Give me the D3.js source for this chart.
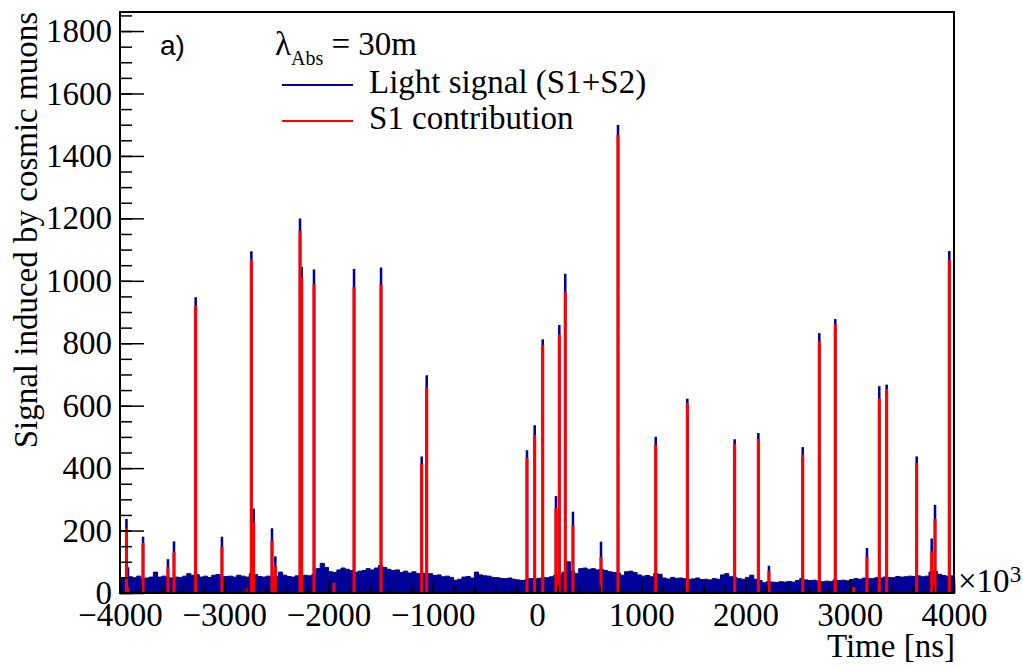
<!DOCTYPE html>
<html>
<head>
<meta charset="utf-8">
<script src="https://cdn.jsdelivr.net/npm/d3@7"></script>
<style>
  body { margin: 0; background: #fff; }
  svg { display: block; }
  .serif { font-family: 'Liberation Serif', Tinos, 'Nimbus Roman', 'DejaVu Serif', serif; }
</style>
</head>
<body>
<div id="wrapper"></div>
<script>
/* DATA (time in ns x10^3) */
const bgStart = -4000;
const bgBinWidth = 40;
// slowly varying light background, one value per 40-unit bin
const background = [
  49, 48, 52, 49, 54, 46, 48, 51, 67, 51, 54, 49, 48, 51, 50, 54, 62, 57, 59, 51,
  54, 50, 57, 59, 51, 53, 54, 51, 57, 54, 51, 62, 59, 53, 51, 54, 51, 53, 67, 57,
  53, 51, 55, 50, 57, 55, 60, 78, 95, 82, 68, 66, 74, 80, 76, 72, 66, 70, 72, 78,
  74, 80, 88, 82, 76, 72, 74, 66, 70, 64, 68, 62, 64, 58, 62, 56, 58, 52, 54, 50,
  41, 44, 51, 53, 48, 67, 58, 55, 54, 50, 49, 47, 46, 48, 44, 42, 40, 42, 46, 45,
  47, 50, 49, 52, 57, 60, 67, 100, 70, 62, 78, 80, 76, 78, 74, 76, 72, 68, 66, 64,
  57, 68, 70, 66, 58, 54, 56, 52, 62, 60, 48, 45, 50, 47, 48, 46, 44, 45, 48, 43,
  44, 42, 46, 44, 58, 62, 52, 50, 46, 44, 50, 57, 44, 40, 33, 36, 35, 34, 36, 35,
  37, 35, 40, 46, 42, 40, 41, 38, 36, 38, 37, 42, 40, 41, 39, 43, 46, 44, 48, 47,
  46, 49, 48, 51, 50, 49, 53, 51, 52, 54, 53, 55, 52, 54, 67, 70, 60, 56, 54, 55
];

// muon flashes: position, total light (S1+S2), S1 part
const spikeTimes = [
  -3938, -3923, -3779, -3540, -3482, -3274, -3022, -2791, -2740, -2718, -2542, -2510,
  -2273, -2257, -2139, -1947, -1755, -1496, -1106, -1058, -96, -22, 55, 182, 214,
  271, 345, 614, 777, 1139, 1442, 1896, 2123, 2225, 2549, 2708, 2861, 3038, 3165,
  3283, 3354, 3642, 3786, 3818, 3955
];
const spikeTotal = [
  235, 80, 178, 106, 163, 945, 178, 14, 1092, 268, 205, 115,
  1197, 1042, 1034, 30, 1036, 1040, 435, 695, 455, 535, 810, 308, 856,
  1020, 258, 162, 1497, 498, 620, 490, 510, 85, 465, 830, 875, 16, 142,
  660, 665, 435, 172, 280, 1093
];
const spikeS1 = [
  205, 15, 157, 80, 128, 918, 145, 14, 1066, 225, 165, 83,
  1157, 1007, 986, 30, 977, 985, 410, 655, 430, 504, 792, 270, 825,
  960, 212, 113, 1465, 472, 605, 475, 490, 68, 440, 805, 858, 16, 113,
  620, 650, 413, 130, 235, 1065
];

const yTitle = 'Signal induced by cosmic muons';
const xTitle = 'Time [ns]';
const legendLabels = ['Light signal (S1+S2)', 'S1 contribution'];

/* CHART DIMENSIONS */
const dimensions = {
  width: 1023,
  height: 666,
  margin: { top: 12, right: 69, bottom: 73, left: 120 },
};
dimensions.boundedWidth =
  dimensions.width - (dimensions.margin.left + dimensions.margin.right);
dimensions.boundedHeight =
  dimensions.height - (dimensions.margin.top + dimensions.margin.bottom);

const blue = '#000099';
const red = '#ff0000';

/* SCALES */
const xScale = d3.scaleLinear().domain([-4000, 4000]).range([0, dimensions.boundedWidth]);
const yScale = d3.scaleLinear().domain([0, 1861]).range([dimensions.boundedHeight, 0]);

const wrapper = d3.select('#wrapper')
  .append('svg')
  .attr('width', dimensions.width)
  .attr('height', dimensions.height);

const bounds = wrapper.append('g')
  .attr('transform', `translate(${dimensions.margin.left},${dimensions.margin.top})`);

/* BACKGROUND HISTOGRAM */
const bgData = background.map((v, i) => ({ t: bgStart + i * bgBinWidth, v }));
bgData.push({ t: bgStart + background.length * bgBinWidth, v: background[background.length - 1] });

const bgArea = d3.area()
  .x(d => xScale(d.t))
  .y0(yScale(0))
  .y1(d => yScale(d.v))
  .curve(d3.curveStepAfter);

bounds.append('path')
  .datum(bgData)
  .attr('d', bgArea)
  .attr('fill', blue)
  .attr('stroke', blue)
  .attr('stroke-width', 1);

/* SPIKES: total light */
const spikes = spikeTimes.map((t, i) => ({ t, total: spikeTotal[i], s1: spikeS1[i] }));
const halfBin = 5;

bounds.append('g')
  .selectAll('rect')
  .data(spikes)
  .join('rect')
  .attr('x', d => xScale(d.t - halfBin))
  .attr('width', d => xScale(d.t + halfBin) - xScale(d.t - halfBin))
  .attr('y', d => yScale(d.total))
  .attr('height', d => yScale(0) - yScale(d.total))
  .attr('fill', blue)
  .attr('stroke', blue)
  .attr('stroke-width', 1.5);

/* S1 contribution: red outline histogram */
const redPoints = [{ t: -4000, v: 0 }];
spikes.slice().sort((a, b) => a.t - b.t).forEach(d => {
  redPoints.push({ t: d.t - halfBin, v: d.s1 });
  redPoints.push({ t: d.t + halfBin, v: 0 });
});
redPoints.push({ t: 4000, v: 0 });

const redLine = d3.line()
  .x(d => xScale(d.t))
  .y(d => yScale(d.v))
  .curve(d3.curveStepAfter);

bounds.append('path')
  .datum(redPoints)
  .attr('d', redLine)
  .attr('fill', 'none')
  .attr('stroke', red)
  .attr('stroke-width', 2);

/* AXES */
const fmt = d3.format('d');
const yAxis = bounds.append('g')
  .call(d3.axisLeft(yScale)
    .tickValues(d3.range(0, 1801, 200))
    .tickFormat(fmt)
    .tickSizeInner(-24)
    .tickSizeOuter(0)
    .tickPadding(8));
const yMinor = bounds.append('g')
  .call(d3.axisLeft(yScale)
    .tickValues(d3.range(0, 1861, 50))
    .tickSizeInner(-12)
    .tickSizeOuter(0)
    .tickFormat(''));

const xAxis = bounds.append('g')
  .attr('transform', `translate(0,${dimensions.boundedHeight})`)
  .call(d3.axisBottom(xScale)
    .tickValues(d3.range(-4000, 4001, 1000))
    .tickFormat(fmt)
    .tickSizeInner(-14)
    .tickSizeOuter(0)
    .tickPadding(10));
const xMinor = bounds.append('g')
  .attr('transform', `translate(0,${dimensions.boundedHeight})`)
  .call(d3.axisBottom(xScale)
    .tickValues(d3.range(-4000, 4001, 200))
    .tickSizeInner(-8)
    .tickSizeOuter(0)
    .tickFormat(''));

[yAxis, yMinor, xAxis, xMinor].forEach(a => {
  a.attr('font-family', null).attr('font-size', null);
  a.select('.domain').remove();
  a.selectAll('line').attr('stroke', '#000').attr('stroke-width', 1.5);
  a.selectAll('text')
    .attr('class', 'serif')
    .attr('fill', '#000')
    .style('font-size', '33px');
});

// frame
bounds.append('rect')
  .attr('width', dimensions.boundedWidth)
  .attr('height', dimensions.boundedHeight)
  .attr('fill', 'none')
  .attr('stroke', '#000')
  .attr('stroke-width', 2);

/* LABELS */
wrapper.append('text')
  .attr('class', 'serif')
  .attr('transform', 'translate(37,12) rotate(-90)')
  .attr('text-anchor', 'end')
  .style('font-size', '33px')
  .text(yTitle);

wrapper.append('text')
  .attr('class', 'serif')
  .attr('x', 955)
  .attr('y', 657)
  .attr('text-anchor', 'end')
  .style('font-size', '33px')
  .text(xTitle);

const expo = wrapper.append('text')
  .attr('class', 'serif')
  .attr('x', 958)
  .attr('y', 592)
  .style('font-size', '33px');
expo.append('tspan').text('×10');
expo.append('tspan').attr('dy', -10).style('font-size', '23px').text('3');

wrapper.append('text')
  .attr('x', 160)
  .attr('y', 55)
  .style('font-family', '"Liberation Sans", Arial, sans-serif')
  .style('font-size', '28px')
  .text('a)');

/* LEGEND */
const lam = wrapper.append('text')
  .attr('class', 'serif')
  .attr('x', 275)
  .attr('y', 55)
  .style('font-size', '33px');
lam.append('tspan').text('λ');
lam.append('tspan').attr('dy', 10).style('font-size', '20px').text('Abs');
lam.append('tspan').attr('dy', -10).text(' = 30m');

const legendColors = [blue, red];
const legendY = [85, 121];
legendLabels.forEach((label, i) => {
  wrapper.append('line')
    .attr('x1', 282).attr('x2', 353)
    .attr('y1', legendY[i]).attr('y2', legendY[i])
    .attr('stroke', legendColors[i])
    .attr('stroke-width', 2);
  wrapper.append('text')
    .attr('class', 'serif')
    .attr('x', 369)
    .attr('y', legendY[i] + 8)
    .style('font-size', '33px')
    .text(label);
});
</script>
</body>
</html>
